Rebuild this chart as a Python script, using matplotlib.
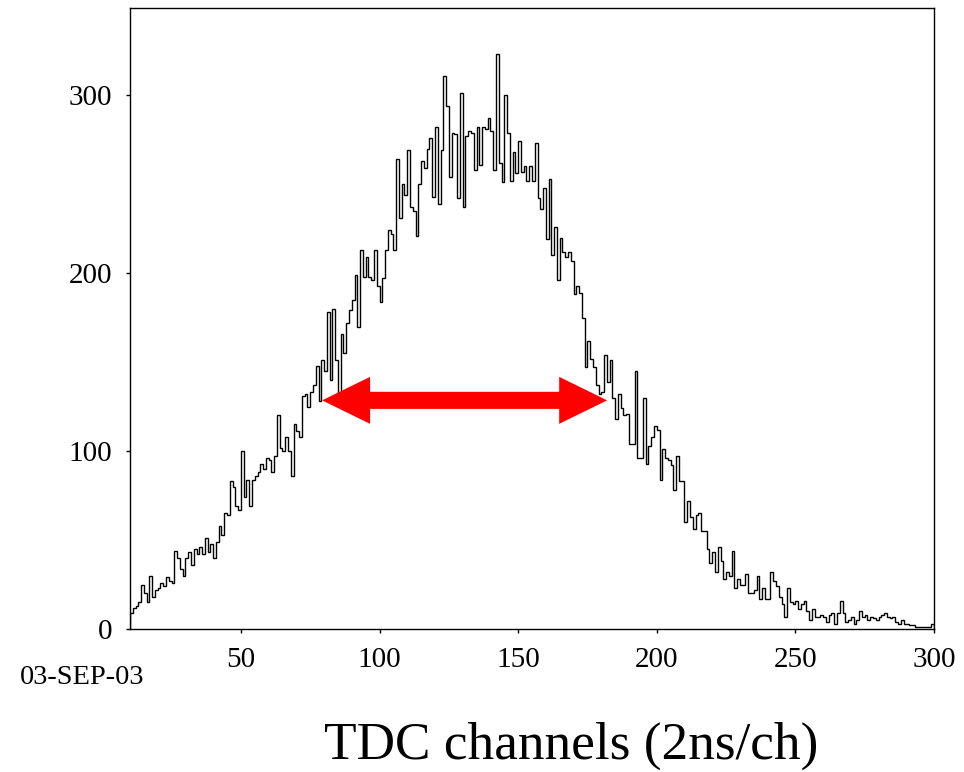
import numpy as np
import matplotlib
matplotlib.use("Agg")
import matplotlib.pyplot as plt
from matplotlib.patches import Polygon

plt.rcParams['font.family'] = ['Liberation Serif', 'DejaVu Serif']

# Histogram: counts per TDC channel, channels 10..299 (1 channel per bin)
first_channel = 10
counts = [
    # ch 10-45
    9, 12, 13, 15, 25, 20, 15, 30, 18, 22, 23, 26, 24, 29, 27, 26, 44, 40, 34, 30,
    40, 43, 36, 45, 42, 46, 42, 51, 43, 48, 40, 49, 58, 53, 65, 64,
    # ch 46-71
    83, 80, 69, 67, 100, 74, 84, 69, 84, 86, 88, 93, 90, 96, 95, 88, 97, 120, 102,
    100, 108, 100, 86, 115, 111, 108,
    # ch 72-89
    131, 132, 125, 133, 137, 148, 128, 151, 145, 178, 140, 180, 151, 127, 166, 155, 172, 179,
    # ch 90-105
    185, 199, 170, 213, 198, 209, 198, 196, 213, 193, 184, 197, 213, 224, 222, 213,
    # ch 106-117
    264, 231, 250, 244, 269, 237, 235, 221, 250, 263, 259, 270,
    # ch 118-153
    276, 243, 282, 239, 269, 311, 294, 254, 279, 278, 242, 301, 237, 277, 280, 279,
    258, 282, 261, 282, 281, 287, 280, 258, 323, 262, 251, 300, 279, 252, 268, 256,
    274, 257, 260, 252,
    # ch 154-189
    260, 252, 273, 242, 236, 248, 219, 253, 210, 226, 196, 220, 212, 209, 212, 207,
    188, 193, 189, 175, 147, 162, 152, 147, 137, 132, 133, 154, 139, 151, 130, 118,
    132, 124, 120, 121,
    # ch 190-215
    104, 104, 145, 96, 96, 130, 93, 103, 108, 114, 112, 84, 101, 96, 95, 92, 78, 97,
    83, 83, 60, 72, 63, 56, 64, 65,
    # ch 216-231
    55, 55, 45, 37, 43, 32, 46, 38, 28, 32, 30, 44, 23, 28, 25, 25,
    # ch 232-262
    31, 20, 20, 22, 30, 17, 23, 17, 17, 32, 27, 24, 18, 14, 7, 23, 15, 14, 16, 11,
    14, 16, 10, 5, 11, 7, 7, 8, 7, 4, 8,
    # ch 263-299
    9, 3, 9, 16, 9, 4, 5, 7, 3, 5, 10, 7, 8, 5, 7, 6, 5, 7, 8, 9, 7, 6, 7, 4, 3, 5,
    3, 3, 2, 2, 1, 1, 1, 1, 1, 1, 3,
]

# FWHM annotation (double arrow)
fwhm_left = 79.3
fwhm_right = 182.1
half_max = 128.5

x_ticks = [50, 100, 150, 200, 250, 300]
y_ticks = [0, 100, 200, 300]
date_label = "03-SEP-03"
x_label = "TDC channels (2ns/ch)"

edges = np.arange(first_channel, first_channel + len(counts) + 1)

fig = plt.figure(figsize=(9.64, 7.72), dpi=100)
ax = fig.add_axes([130 / 964, 143 / 772, 804 / 964, 621 / 772])

ax.stairs(counts, edges, color='black', linewidth=1.0, baseline=0)

ax.set_xlim(10, 300)
ax.set_ylim(0, 349)
ax.set_xticks(x_ticks)
ax.set_yticks(y_ticks)
ax.tick_params(axis='both', direction='out', length=3, width=1,
               labelsize=21, pad=10)
for s in ax.spines.values():
    s.set_linewidth(1.0)

# double-headed red arrow as one polygon (head/shaft sizes in data units)
head_len = 17.3
head_half = 13.2
shaft_half = 4.8
L, R, y = fwhm_left, fwhm_right, half_max
arrow_verts = [
    (L, y), (L + head_len, y + head_half), (L + head_len, y + shaft_half),
    (R - head_len, y + shaft_half), (R - head_len, y + head_half), (R, y),
    (R - head_len, y - head_half), (R - head_len, y - shaft_half),
    (L + head_len, y - shaft_half), (L + head_len, y - head_half),
]
ax.add_patch(Polygon(arrow_verts, closed=True, facecolor='red',
                     edgecolor='none', zorder=3))

fig.text(20 / 964, 1 - 677 / 772, date_label, fontsize=20.5, va='center', ha='left')
fig.text(571 / 964, 1 - 746 / 772, x_label, fontsize=38.3, va='center', ha='center')

fig.savefig("out.png", dpi=100)
